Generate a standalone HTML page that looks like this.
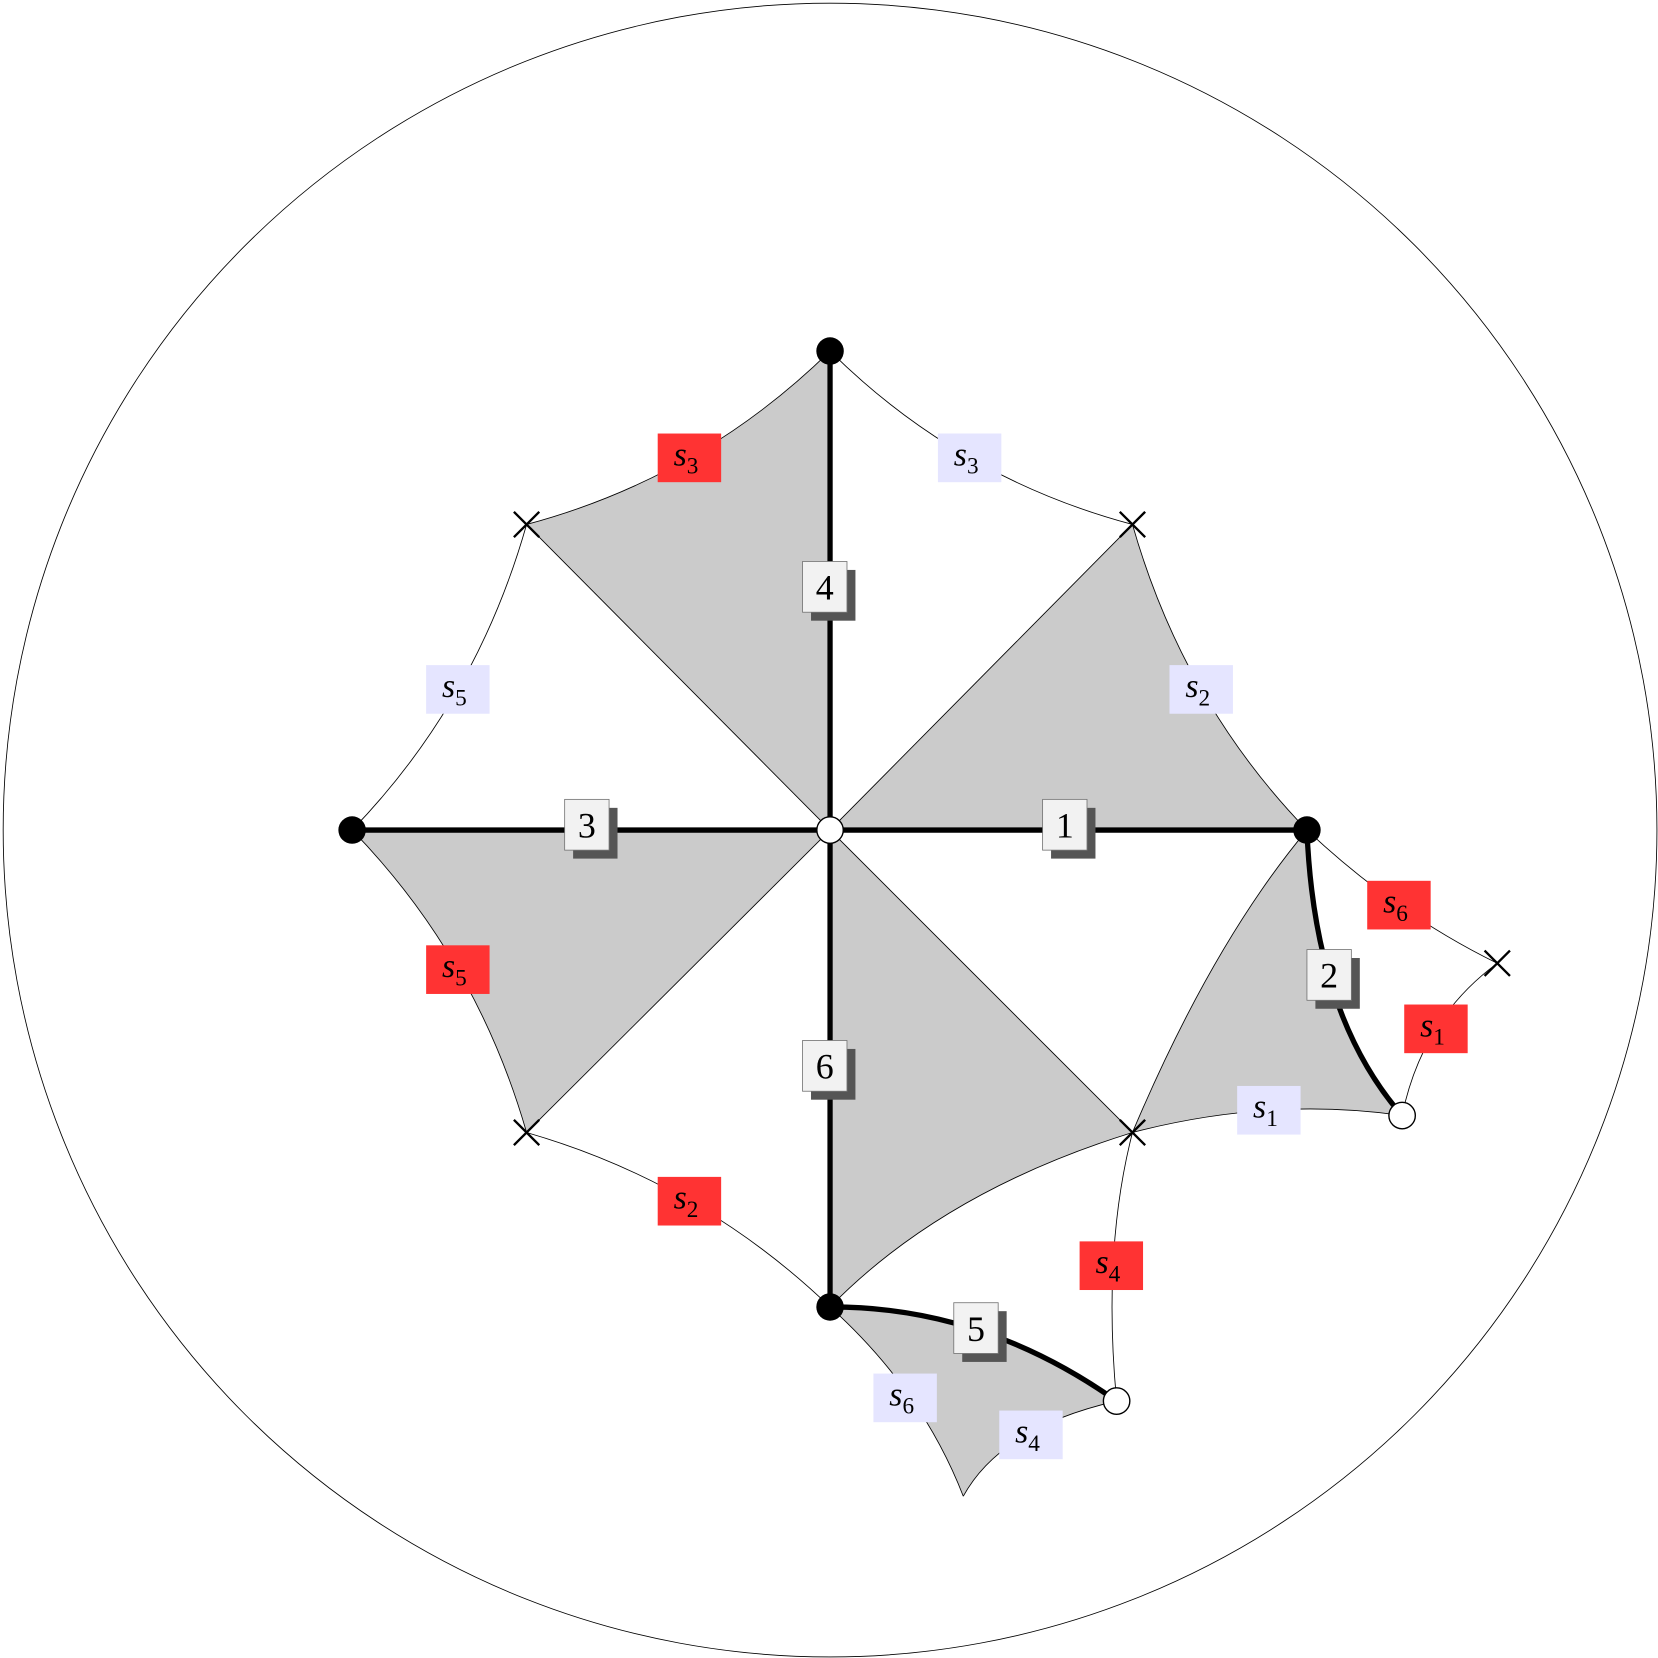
<!DOCTYPE html>
<html><head><meta charset="utf-8">
<style>
html,body{margin:0;padding:0;background:#fff;}
svg{display:block;}
text{font-family:"Liberation Serif",serif;}
</style></head>
<body>
<svg id="fig" width="1658" height="1658" viewBox="0 0 1568 1568" xmlns="http://www.w3.org/2000/svg">
<circle cx="785" cy="785" r="782" fill="none" stroke="#000" stroke-width="0.8"/>
<g id="gray"></g><g id="thin"></g><g id="thick"></g><g id="nodes"></g><g id="labels"></g>
</svg>
<script>
const NS="http://www.w3.org/2000/svg";
const P={C:[785,785],T:[785,332],L:[333,785],R:[1236,785],B:[785,1236],
 XUL:[498,496],XUR:[1071,496],XLL:[498,1071],XLR:[1071,1071],XR:[1416,911],
 WR:[1326,1055],WB:[1056,1325],TIP:[911,1415]};
// curved edges: [from,to,pass-through point]
const curves=[["T","XUL",[652,433]],["T","XUR",[917,433]],["XUL","L",[433,652]],["L","XLL",[433,917]],
 ["XLL","B",[652,1136]],["XUR","R",[1136,652]],["R","XLR",[1150,910]],["XLR","WR",[1200,1050]],
 ["XLR","B",[910,1140]],["XLR","WB",[1053,1190]],["B","TIP",[860,1320]],["TIP","WB",[965,1360]],
 ["R","XR",[1323,856]],["XR","WR",[1358,973]]];
const thickCurves=[["R","WR",[1262,940]],["B","WB",[925,1258]]];
const straightThick=[["C","T"],["C","L"],["C","R"],["C","B"]];
const straightThin=[["C","XUL"],["C","XUR"],["C","XLL"],["C","XLR"]];
const ctrl=(a,m,b)=>[2*m[0]-(a[0]+b[0])/2,2*m[1]-(a[1]+b[1])/2];
function seg(f,t,m){const a=P[f],b=P[t],c=ctrl(a,m,b);return `Q${c[0]},${c[1]} ${b[0]},${b[1]}`;}
function findC(f,t){for(const c of curves.concat(thickCurves)){if(c[0]==f&&c[1]==t)return seg(f,t,c[2]);if(c[0]==t&&c[1]==f)return seg(t,f,c[2]).replace(/Q([\d.\-]+),([\d.\-]+) .*/,(s,x,y)=>`Q${x},${y} ${P[t][0]},${P[t][1]}`);}}
function mk(tag,attrs,parent,name,txt){const e=document.createElementNS(NS,tag);for(const k in attrs)e.setAttribute(k,attrs[k]);
 
 
 if(txt!==undefined)e.textContent=txt;document.getElementById(parent).appendChild(e);return e;}
const M=k=>`M${P[k][0]},${P[k][1]}`;
const Lto=k=>`L${P[k][0]},${P[k][1]}`;
// gray regions
const regions=[
 M("C")+Lto("T")+findC("T","XUL")+"Z",
 M("C")+Lto("XUR")+findC("XUR","R")+"Z",
 M("C")+Lto("L")+findC("L","XLL")+"Z",
 M("C")+Lto("XLR")+findC("XLR","B")+"Z",
 M("R")+findC("R","XLR")+findC("XLR","WR")+M("WR").replace("M","L")+"Z",
 M("B")+findC("B","WB")+"L"+P.WB+"Z"];
// region 5 and 6 proper
regions[4]=M("R")+findC("R","XLR")+findC("XLR","WR")+"Q"+ctrl(P.R,[1262,940],P.WR).join(",")+" "+P.R.join(",")+"Z";
regions[5]=M("B")+findC("B","TIP")+findC("TIP","WB")+"Q"+ctrl(P.B,[925,1258],P.WB).join(",")+" "+P.B.join(",")+"Z";
regions.forEach((d,i)=>mk("path",{d,fill:"#cbcbcb",stroke:"none"},"gray","gray-region-"+(i+1)));
curves.forEach(c=>mk("path",{d:M(c[0])+seg(c[0],c[1],c[2]),fill:"none",stroke:"#000","stroke-width":0.8},"thin","edge-"+c[0]+"-"+c[1]));
straightThin.forEach(c=>mk("path",{d:M(c[0])+Lto(c[1]),stroke:"#000","stroke-width":0.8},"thin","diagonal-"+c[1]));
straightThick.forEach(c=>mk("path",{d:M(c[0])+Lto(c[1]),stroke:"#000","stroke-width":5},"thick","spoke-"+c[1]));
thickCurves.forEach(c=>mk("path",{d:M(c[0])+seg(c[0],c[1],c[2]),fill:"none",stroke:"#000","stroke-width":5},"thick","thick-edge-"+c[1]));
["T","L","R","B"].forEach(k=>mk("circle",{cx:P[k][0],cy:P[k][1],r:13,fill:"#000"},"nodes","black-node-"+k));
["C","WR","WB"].forEach(k=>mk("circle",{cx:P[k][0],cy:P[k][1],r:12.5,fill:"#fff",stroke:"#000","stroke-width":1.3},"nodes","white-node-"+k));
["XUL","XUR","XLL","XLR","XR"].forEach(k=>{const [x,y]=P[k],s=12;
 mk("path",{d:`M${x-s},${y-s}L${x+s},${y+s}M${x-s},${y+s}L${x+s},${y-s}`,stroke:"#000","stroke-width":2.2},"nodes","cross-"+k);});
// s-labels
const sNames=["3","3","5","5","2","2","6","1","1","4","6","4"];
const sRed=[1,0,0,1,0,1,1,1,0,1,0,0];
const sPos=[[652,433],[917,433],[433,652],[433,917],[1136,652],[652,1136],[1323,856],[1358,973],[1200,1050],[1051,1197],[856,1322],[975,1357]];
sPos.forEach((p,i)=>{
 mk("rect",{x:p[0]-30,y:p[1]-23,width:60,height:46,fill:sRed[i]?"#ff3333":"#e5e5ff"},"labels","s-label-box-"+i);
 const t=mk("text",{x:p[0]-15,y:p[1]+7,"font-size":32,"font-style":"italic"},"labels","s-label-"+sNames[i],"s");
 const sub=document.createElementNS(NS,"tspan");sub.setAttribute("font-size","22");sub.setAttribute("font-style","normal");sub.setAttribute("dy","8");sub.textContent=sNames[i];t.appendChild(sub);
});
// number boxes
const nums=["1","2","3","4","5","6"];
const nPos=[[1007,780],[1257,922],[555,780],[780,555],[923,1256],[780,1008]];
nPos.forEach((p,i)=>{
 mk("rect",{x:p[0]-21+8,y:p[1]-24+8,width:42,height:48,fill:"#555"},"labels","number-shadow-"+nums[i]);
 mk("rect",{x:p[0]-21,y:p[1]-24,width:42,height:48,fill:"#f2f2f2",stroke:"#777","stroke-width":0.8},"labels","number-box-"+nums[i]);
 mk("text",{x:p[0],y:p[1]+12,"font-size":34,"text-anchor":"middle"},"labels","number-label-"+nums[i],nums[i]);
});
</script>
</body></html>
